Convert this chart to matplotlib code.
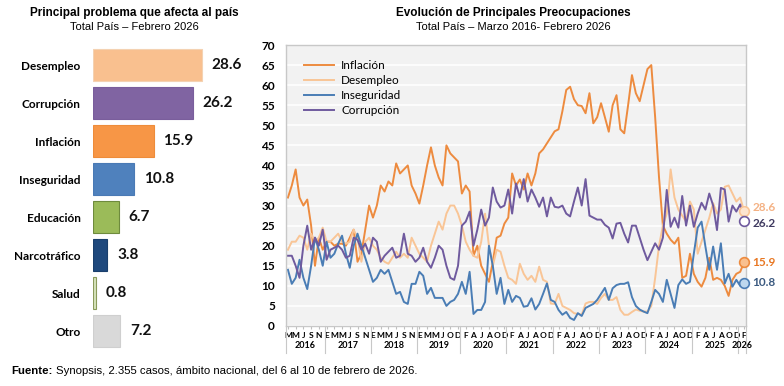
import numpy as np
import pandas as pd
import matplotlib
matplotlib.use("Agg")
import matplotlib.pyplot as plt
import matplotlib.transforms as mtransforms

# ---- left panel data ----
problems = ["Desempleo", "Corrupción", "Inflación", "Inseguridad",
            "Educación", "Narcotráfico", "Salud", "Otro"]
shares = [28.6, 26.2, 15.9, 10.8, 6.7, 3.8, 0.8, 7.2]
bar_colors = ["#F9C08F", "#8064A2", "#F79646", "#4F81BD",
              "#9BBB59", "#1F497D", "#D7E4BD", "#D9D9D9"]
bar_edges = ["#F4D2B2", "#7A5E9C", "#EE8C3A", "#4A7AB5",
             "#6E8B3D", "#1A3F6C", "#8A9A5B", "#CFCFCF"]

# ---- right panel data (monthly, Mar 2016 - Feb 2026, no survey Aug 2019) ----
months = pd.date_range("2016-03-01", "2026-02-01", freq="MS")
months = months[months != pd.Timestamp("2019-08-01")]

inflacion = [32, 35, 39, 32, 30, 31.5, 25, 15, 22, 19,
             21, 21, 20, 20.5, 20.5, 20, 22, 24, 16, 18, 24, 30,
             27, 30, 35, 33.5, 36, 35, 40.5, 38, 39, 40, 35, 33,
             30.5, 35, 40, 44.5, 40, 37, 35, 45, 43, 42, 41,
             33, 35, 33.5, 17.5, 20, 15, 13, 11, 16, 22, 22.5, 25.5,
             27, 38, 35, 36.5, 34, 38, 35, 38, 43, 44, 45.5, 47,
             48.5, 49, 53.5, 58.8, 59.6, 56.5, 55, 54.8, 53, 58, 50.5, 52,
             55.5, 52, 48.4, 55, 57.5, 49, 48, 55, 62.5, 58, 56, 60,
             64, 65, 52, 37, 25, 23, 21.5, 20.5, 22, 12, 12.5, 18,
             13, 11, 9.8, 12, 17, 11.5, 12, 11.5, 10, 7.5, 11.5, 13, 13.5, 15.9]
desempleo = [19, 21, 21, 22.5, 22, 19, 23, 21, 22, 24.5,
             21, 21, 22, 23, 21, 20.5, 21, 24, 22, 16, 21, 22,
             20, 19, 17, 16, 15.5, 17, 18.5, 17, 18, 17, 22, 20,
             18, 17, 16, 20, 23, 26, 24, 28, 30, 30, 28,
             25, 21, 19, 17.5, 17, 21, 28, 20, 15, 19, 18.5, 15,
             12, 11.5, 10.5, 15.5, 13, 11.5, 12.5, 11, 14.8, 11.5, 11, 5.6,
             5.5, 8, 5, 4.5, 4, 3.2, 3, 2.8, 5.6, 6, 6, 5.5,
             7, 8, 6.5, 6.5, 7.2, 4, 2.8, 2.8, 3.5, 4.1, 3.8, 3.6,
             3.6, 5, 12, 20, 25, 28, 39, 32, 29, 27.5, 26, 31,
             29, 18, 21, 24, 27, 30.6, 28, 29, 34.7, 35, 33, 31, 32, 28.6]
inseguridad = [14, 10.5, 12, 16.5, 12, 9.2, 15, 22, 19, 15,
               21, 17, 18, 20.5, 22.5, 18, 14.5, 20, 23, 20, 17, 14,
               11, 12, 14, 13, 14, 11, 8, 8.5, 6, 5.5, 10.5, 10.5,
               13.5, 12.5, 8, 9.5, 7, 7, 7, 5, 6, 6.5, 8,
               11, 8, 13.5, 3, 4, 4, 6, 20, 15, 8, 12, 5.5,
               9, 6, 7.5, 7, 4.8, 5, 6.9, 4.1, 5.5, 8, 10.6, 6.5,
               6, 4, 2.8, 3.5, 2, 1.5, 3.2, 2.5, 4.5, 5, 5.5, 6.5,
               8, 9.5, 6.5, 9.4, 10.2, 10.5, 10.5, 10.9, 7.2, 5, 4.1, 3.6,
               3.2, 6, 9, 8, 6, 11.5, 8, 4.5, 10.2, 11.6, 10.5, 11,
               18, 24.5, 26, 19.8, 14, 19.8, 14, 20.6, 10.6, 13, 9.8, 11.5, 10, 10.8]
corrupcion = [17.5, 17.5, 15, 12, 20, 25, 19, 22, 20, 24,
              16.5, 19, 19.5, 20, 19, 17, 17.5, 22, 21.5, 19, 20.5, 18,
              22, 21, 16, 17.5, 18.5, 19.5, 17, 17.5, 23, 18, 17.5, 16,
              17, 19.5, 16, 14.5, 17, 20, 19, 15, 12, 11.5, 15,
              25, 26, 28.5, 20, 24, 29, 25, 27, 34.5, 31, 29.5, 30,
              34, 28, 35.5, 32, 36.6, 31, 34, 32, 29.7, 32, 27.3, 32,
              29.7, 29.5, 30, 28, 27.3, 31, 34.5, 30, 36.6, 27.5, 27, 26.5,
              26.5, 25.2, 24.5, 21.8, 25.5, 25.7, 23, 20.8, 25, 25, 22, 19,
              16.4, 18.5, 20.6, 19, 22, 33.9, 24.7, 27, 24.5, 32.4, 25, 30,
              24.7, 28, 30.7, 29, 33, 30, 23.9, 34.4, 34, 26, 30, 28.5, 30.3, 26.2]

# name, values, line colour, marker fill, end-label colour, end-label nudge (pt)
series = [("Inflación", inflacion, "#ED8B3F", "#F9C08F", "#E87722", 0),
          ("Desempleo", desempleo, "#F9C596", "#FCE4CF", "#F4B183", 2.5),
          ("Inseguridad", inseguridad, "#4A7DB5", "#BDD7EE", "#3B5A80", 0),
          ("Corrupción", corrupcion, "#6F5A9E", "#FFFFFF", "#3F3A60", -2)]

plt.rcParams["font.family"] = ["Lato", "DejaVu Sans"]

W, H = 784, 386
fig = plt.figure(figsize=(W / 100, H / 100), dpi=100)

# ---------------- left: horizontal bars ----------------
axl = fig.add_axes([93 / W, 1 - 350 / H, 170 / W, 304 / H])
ypos = np.arange(len(problems))
axl.barh(ypos, shares, height=0.84, color=bar_colors, edgecolor=bar_edges, linewidth=0.8)
axl.set_ylim(len(problems) - 0.5, -0.5)
axl.set_xlim(0, 170 / 3.81)
axl.set_yticks(ypos)
axl.set_yticklabels(problems, fontsize=8.5, fontweight="bold")
axl.tick_params(axis="y", length=0, pad=9)
axl.set_xticks([])
for s in axl.spines.values():
    s.set_visible(False)
for y, v in zip(ypos, shares):
    axl.annotate(f"{v}", (v, y), xytext=(7, 0), textcoords="offset points",
                 va="center", ha="left", fontsize=11, fontweight="bold", color="#111111")

fig.text(134 / W, 1 - 13 / H, "Principal problema que afecta al país", ha="center", va="center",
         fontsize=8.5, fontweight="bold", family="Liberation Sans")
fig.text(134 / W, 1 - 27 / H, "Total País – Febrero 2026", ha="center", va="center",
         fontsize=8, family="Liberation Sans")

# ---------------- right: time series ----------------
ax = fig.add_axes([286 / W, 1 - 326 / H, 460 / W, 281 / H])
ax.set_facecolor("#F2F2F2")
x = np.arange(len(months))
for name, vals, col, fill, lab, dy in series:
    ax.plot(x, vals, color=col, lw=1.4, label=name, solid_joinstyle="round")
for name, vals, col, fill, lab, dy in series:
    ax.plot(x[-1], vals[-1], "o", ms=7, mfc=fill, mec=col, mew=1.2, clip_on=False, zorder=5)
    ax.annotate(f"{vals[-1]}", (x[-1], vals[-1]), xytext=(6, dy), textcoords="offset points",
                va="center", ha="left", fontsize=8.5, fontweight="bold", color=lab,
                annotation_clip=False)

ax.set_xlim(-0.5, len(months) - 0.5)
ax.set_ylim(0, 70)
ax.set_yticks(range(0, 71, 5))
ax.tick_params(axis="y", length=0, pad=8, labelsize=8.5)
for t in ax.get_yticklabels():
    t.set_fontweight("bold")
ax.yaxis.grid(True, color="white", lw=1.2)
ax.set_axisbelow(True)
for s in ax.spines.values():
    s.set_color("#C8C8C8")
    s.set_linewidth(1)

letters = "EFMAMJJASOND"
ticks = x[::2]
ax.set_xticks(ticks)
ax.set_xticklabels([letters[months[i].month - 1] for i in ticks], fontsize=6, fontweight="bold")
ax.tick_params(axis="x", length=2.5, pad=2, color="#BFBFBF")

trans = mtransforms.blended_transform_factory(ax.transData, ax.transAxes)
years = np.array([m.year for m in months])
bounds = [-0.5]
for yr in np.unique(years):
    idx = np.where(years == yr)[0]
    ax.text(idx.mean(), -0.071, str(yr), transform=trans, ha="center", va="center",
            fontsize=6.5, fontweight="bold")
    bounds.append(idx[-1] + 0.5)
for b in bounds:
    ax.plot([b, b], [0, -0.095], transform=trans, color="#C8C8C8", lw=0.8, clip_on=False)

ax.legend(loc="upper left", bbox_to_anchor=(0.015, 0.985), frameon=False, fontsize=8.5,
          handlelength=2.6, handletextpad=0.6, labelspacing=0.35)

fig.text(513 / W, 1 - 13 / H, "Evolución de Principales Preocupaciones",
         ha="center", va="center", fontsize=8.5, fontweight="bold", family="Liberation Sans")
fig.text(513 / W, 1 - 27 / H, "Total País – Marzo 2016- Febrero 2026", ha="center", va="center",
         fontsize=8, family="Liberation Sans")

# ---------------- footer ----------------
src = fig.text(11 / W, 1 - 371 / H, "Fuente:", ha="left", va="center", fontsize=8.2,
               fontweight="bold", family="Liberation Sans")
fig.canvas.draw()
bb = src.get_window_extent()
fig.text(bb.x1 / W + 4 / W, 1 - 371 / H,
         "Synopsis, 2.355 casos, ámbito nacional, del 6 al 10 de febrero de 2026.",
         ha="left", va="center", fontsize=8.2, family="Liberation Sans")

fig.savefig("out.png", dpi=100)
